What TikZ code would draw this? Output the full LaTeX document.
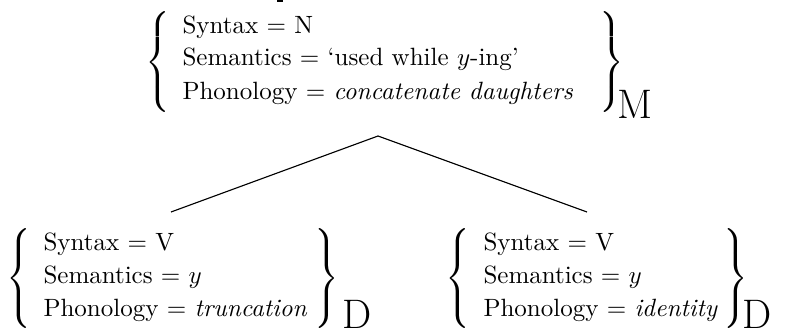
\documentclass[tikz,border=0pt]{standalone}
\usepackage{graphicx}
\setlength{\nulldelimiterspace}{0pt}
% tall curly braces, brought to a total height of 40pt
\newcommand{\openbrace}{\resizebox*{!}{40pt}{$\left\{\vcenter{\hrule height 18pt depth 18pt width 0pt}\right.$}}
\newcommand{\closebrace}{\resizebox*{!}{40pt}{$\left.\vcenter{\hrule height 18pt depth 18pt width 0pt}\right\}$}}
\begin{document}
\begin{tikzpicture}[x=0.4pt,y=-0.4pt,
  feat/.style={anchor=base west, inner sep=0pt, font=\fontsize{10}{12}\selectfont},
  bracenode/.style={inner sep=0pt, anchor=center},
  tag/.style={anchor=base west, inner sep=0pt, font=\fontsize{16.5}{19}\selectfont},
  branch/.style={line width=0.45pt}]
\useasboundingbox (0,0) rectangle (788,333);

% short stroke on the upper edge
\fill (277,0) rectangle (283,2);

% mother structure
\node[bracenode] (mL) at (157.5,62) {\openbrace};
\node[feat] (m1) at (182,33) {Syntax $=$ N};
\node[feat] (m2) at (182,66) {Semantics $=$ `used while $y$-ing'};
\node[feat] (m3) at (182,99) {Phonology $=$ \textit{concatenate daughters}};
\node[bracenode] (mR) at (612,62) {\closebrace};
\node[tag] (mT) at (617,118) {M};

% left daughter
\node[bracenode] (aL) at (19,278) {\openbrace};
\node[feat] (a1) at (43,250) {Syntax $=$ V};
\node[feat] (a2) at (43,283) {Semantics $=$ $y$};
\node[feat] (a3) at (43,316) {Phonology $=$ \textit{truncation}};
\node[bracenode] (aR) at (327,278) {\closebrace};
\node[tag] (aT) at (342,328) {D};

% right daughter
\node[bracenode] (bL) at (458,278) {\openbrace};
\node[feat] (b1) at (483,250) {Syntax $=$ V};
\node[feat] (b2) at (483,283) {Semantics $=$ $y$};
\node[feat] (b3) at (483,316) {Phonology $=$ \textit{identity}};
\node[bracenode] (bR) at (736,278) {\closebrace};
\node[tag] (bT) at (742,328) {D};

% tree branches
\coordinate (apex) at (378,136);
\coordinate (leafA) at (171,212);
\coordinate (leafB) at (587,212);
\draw[branch] (leafA) -- (apex) -- (leafB);
\end{tikzpicture}
\end{document}
